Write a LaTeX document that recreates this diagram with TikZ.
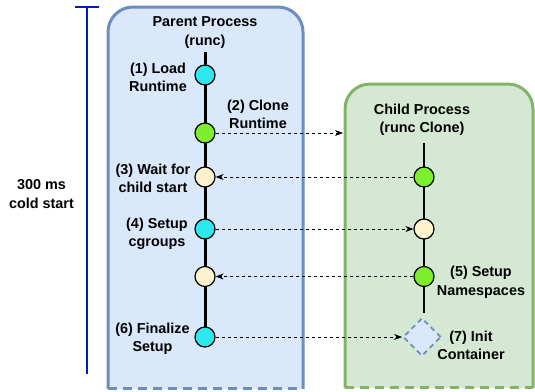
\documentclass[tikz,border=0pt]{standalone}
\usepackage{fontspec}
\setmainfont{Liberation Sans}
\usetikzlibrary{arrows.meta,shapes.geometric}
\definecolor{pfill}{HTML}{DAE8FC}
\definecolor{pline}{HTML}{6C8EBF}
\definecolor{cfill}{HTML}{D5E8D4}
\definecolor{cline}{HTML}{82B366}
\definecolor{cyanc}{HTML}{2EE8EE}
\definecolor{greenc}{HTML}{7CF02F}
\definecolor{creamc}{HTML}{FFF2CC}
\definecolor{barblue}{HTML}{001DBC}
\tikzset{
  x=1pt,y=-1pt,
  lbl/.style={font=\fontsize{14.4}{18.5}\selectfont\bfseries, align=center, inner sep=0pt, yshift=-1.5pt},
  circ/.style={circle, draw=black, line width=1.2pt, minimum size=20pt, inner sep=0pt},
  arr/.style={dashed, dash pattern=on 3pt off 3pt, line width=0.9pt, -{Stealth[length=8pt,width=6pt,inset=2.5pt]}},
  thickline/.style={line width=3pt},
  thinline/.style={line width=1.8pt},
}
\begin{document}
\begin{tikzpicture}
\useasboundingbox (0,0) rectangle (535,391);
% parent box
\begin{scope}
\clip (100,0) rectangle (312,388);
\draw[fill=pfill, draw=pline, line width=3pt, rounded corners=25pt] (108,7) rectangle (303,430);
\end{scope}
\draw[pline, line width=3pt, dash pattern=on 9pt off 6pt] (108,388) -- (303,388);
% child box
\begin{scope}
\clip (338,0) rectangle (535,387);
\draw[fill=cfill, draw=cline, line width=3pt, rounded corners=25pt] (345,84) rectangle (533,430);
\end{scope}
\draw[cline, line width=3pt, dash pattern=on 9pt off 6pt] (345,387) -- (533,387);
\coordinate (cbw) at (343,0);
% cold start bar
\coordinate (bartop) at (87,7);
\coordinate (barbot) at (87,374);
\draw[barblue, line width=2.8pt] (bartop) -- (barbot);
\draw[barblue, line width=2.8pt] ([xshift=-12pt]bartop) -- ([xshift=12pt]bartop);
\node[lbl] (cold) at (41.5,192.5) {300 ms\\cold start};
% titles
\node[lbl] (ptitle) at (205,31) {Parent Process\\(runc)};
\node[lbl] (ctitle) at (422,118.5) {Child Process\\(runc Clone)};
% timelines
\coordinate (ptop) at (205,52);
\coordinate (ctop) at (424,143);
\coordinate (cbot) at (424,313);
\draw[thickline] (ptop) -- (205,337);
\draw[thinline] (ctop) -- (cbot);
% parent events
\node[circ, fill=cyanc] (p1) at (205,75) {};
\node[circ, fill=greenc] (p2) at (205,133) {};
\node[circ, fill=creamc] (p3) at (205,177) {};
\node[circ, fill=cyanc] (p4) at (205,229) {};
\node[circ, fill=creamc] (p5) at (205,276.5) {};
\node[circ, fill=cyanc] (p6) at (205,337) {};
% child events
\node[circ, fill=greenc] (c1) at (424,177) {};
\node[circ, fill=creamc] (c2) at (424,229) {};
\node[circ, fill=greenc] (c3) at (424,276.5) {};
\node[diamond, draw=pline, fill=pfill, line width=1.8pt, dash pattern=on 5pt off 4pt, minimum width=38pt, minimum height=38pt, inner sep=0pt] (c4) at (422,337) {};
% labels
\node[lbl] (l1) at (158,76) {(1) Load\\Runtime};
\node[lbl] (l2) at (258,113) {(2) Clone\\Runtime};
\node[lbl] (l3) at (153,177) {(3) Wait for\\child start};
\node[lbl] (l4) at (157,232.5) {(4) Setup\\cgroups};
\node[lbl] (l6) at (152.5,337.5) {(6) Finalize\\Setup};
\node[lbl] (l5) at (481,281) {(5) Setup\\Namespaces};
\node[lbl] (l7) at (471,344) {(7) Init\\Container};
% connectors
\draw[arr] (p2) -- (p2 -| cbw);
\draw[arr] (c1) -- (p3);
\draw[arr] (p4) -- (c2);
\draw[arr] (c3) -- (p5);
\draw[arr] (p6) -- (c4);
\end{tikzpicture}
\end{document}
